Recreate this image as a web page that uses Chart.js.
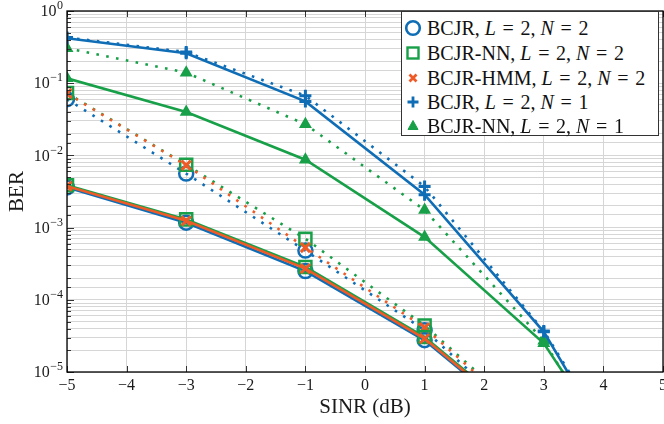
<!DOCTYPE html>
<html>
<head>
<meta charset="utf-8">
<script src="https://cdn.jsdelivr.net/npm/chart.js@4/dist/chart.umd.min.js"></script>
<style>
html, body { margin: 0; padding: 0; background: #fff; }
#wrap { position: relative; width: 664px; height: 424px; overflow: hidden; }
#legend { position: absolute; left: 401px; top: 11px; width: 258px; height: 125px; box-sizing: border-box;
  border: 1px solid #333; background: #fff; font-family: "Liberation Serif", "Times New Roman", serif; font-size: 20px; color: #111; }
.row { position: absolute; left: 0; height: 24px; line-height: 24px; white-space: nowrap; }
.row svg { position: absolute; left: 1px; top: 2px; }
.row span { position: absolute; left: 25px; }
</style>
</head>
<body>
<div id="wrap">
  <canvas id="myChart" width="664" height="424"></canvas>
  <div id="legend"></div>
</div>
<script>
// SINR points (dB)
const snr = [-5, -3, -1, 1, 3, 5];

// solid curves
const bcjrN2 = [3.6e-3, 1.17e-3, 2.5e-4, 2.75e-5, 1.2e-6, null];
const nnN2 = [3.85e-3, 1.3e-3, 2.85e-4, 3.05e-5, 1.3e-6, null];
const hmmN2 = [3.75e-3, 1.24e-3, 2.7e-4, 2.9e-5, 1.25e-6, null];
const bcjrN1 = [0.42, 0.26, 0.056, 2.85e-3, 3.6e-5, 6e-8];
const nnN1 = [0.117, 0.040, 8.7e-3, 7.4e-4, 2.5e-5, 8e-8];

// dotted curves
const bcjrN2Dot = [0.06, 5.6e-3, 4.8e-4, 3.8e-5, 1.2e-6, null];
const nnN2Dot = [0.073, 7.4e-3, 7.0e-4, 4.4e-5, 1.5e-6, null];
const hmmN2Dot = [0.072, 7.3e-3, 5.3e-4, 4.1e-5, 1.4e-6, null];
const bcjrN1Dot = [0.43, 0.27, 0.067, 3.7e-3, 3.7e-5, 8e-8];
const nnN1Dot = [0.305, 0.14, 0.027, 1.75e-3, 2.7e-5, 5e-8];

const xTicks = [-5, -4, -3, -2, -1, 0, 1, 2, 3, 4, 5];
const xTickLabels = ['\u22125', '\u22124', '\u22123', '\u22122', '\u22121', '0', '1', '2', '3', '4', '5'];
const yDecades = [1e-5, 1e-4, 1e-3, 1e-2, 1e-1, 1];
const yTickExps = ['\u22125', '\u22124', '\u22123', '\u22122', '\u22121', '0'];

const legendNames = ['BCJR', 'BCJR-NN', 'BCJR-HMM', 'BCJR', 'BCJR-NN'];
const legendL = [2, 2, 2, 2, 2];
const legendN = [2, 2, 2, 1, 1];

const blue = '#0f6db6';
const green = '#18a049';
const orange = '#ee5b27';

const serif = '"Liberation Serif", "Times New Roman", serif';

function pts(arr) {
  return snr.map((x, i) => ({ x: x, y: arr[i] }));
}

// marker look per curve family
const markers = {
  bcjrN2: { style: 'circle', color: blue, r: 7, bw: 2.5, fill: 'rgba(0,0,0,0)' },
  nnN2: { style: 'rect', color: green, r: 8.5, bw: 2.5, fill: 'rgba(0,0,0,0)' },
  hmmN2: { style: 'crossRot', color: orange, r: 6.5, bw: 3, fill: orange },
  bcjrN1: { style: 'cross', color: blue, r: 6, bw: 3, fill: blue },
  nnN1: { style: 'triangle', color: green, r: 5.5, bw: 2, fill: green }
};

function mk(arr, key, dotted) {
  const m = markers[key];
  return {
    data: pts(arr),
    borderColor: m.color,
    backgroundColor: m.fill,
    borderWidth: 2.6,
    borderDash: dotted ? [2.6, 7.4] : [],
    borderCapStyle: 'butt',
    pointStyle: m.style,
    pointRadius: m.r,
    pointBorderWidth: m.bw,
    pointBorderColor: m.color,
    pointBackgroundColor: m.fill,
    tension: 0,
    fill: false
  };
}

// chart frame, inward tick marks and 10^k labels
const framePlugin = {
  id: 'frame',
  afterDraw(chart) {
    const ctx = chart.ctx;
    const a = chart.chartArea;
    const xs = chart.scales.x, ys = chart.scales.y;
    ctx.save();
    ctx.strokeStyle = '#333';
    ctx.lineWidth = 1;
    ctx.beginPath();
    ys.ticks.forEach(t => {
      const y = Math.round(ys.getPixelForValue(t.value)) + 0.5;
      const e = Math.log10(t.value);
      const len = Math.abs(e - Math.round(e)) < 1e-6 ? 7 : 4;
      ctx.moveTo(a.left, y);
      ctx.lineTo(a.left + len, y);
    });
    xTicks.forEach(v => {
      const x = Math.round(xs.getPixelForValue(v)) + 0.5;
      ctx.moveTo(x, a.bottom);
      ctx.lineTo(x, a.bottom - 6);
      ctx.moveTo(x, a.top);
      ctx.lineTo(x, a.top + 6);
    });
    ctx.stroke();
    ctx.strokeStyle = '#000';
    ctx.lineWidth = 1.3;
    ctx.strokeRect(a.left, a.top, a.right - a.left, a.bottom - a.top);

    ctx.fillStyle = '#1a1a1a';
    ctx.textBaseline = 'middle';
    ctx.textAlign = 'right';
    yDecades.forEach((v, i) => {
      const y = ys.getPixelForValue(v) + 1;
      const right = a.left - 4;
      ctx.font = '12px ' + serif;
      const ew = ctx.measureText(yTickExps[i]).width;
      ctx.fillText(yTickExps[i], right, y - 6);
      ctx.font = '16px ' + serif;
      ctx.fillText('10', right - ew - 0.5, y);
    });
    ctx.restore();
  }
};

Chart.defaults.font.family = serif;
Chart.defaults.color = '#1a1a1a';

const ctx = document.getElementById('myChart').getContext('2d');
const chart = new Chart(ctx, {
  type: 'line',
  data: {
    datasets: [
      mk(hmmN2, 'hmmN2', false),
      mk(nnN2, 'nnN2', false),
      mk(bcjrN2, 'bcjrN2', false),
      mk(hmmN2Dot, 'hmmN2', true),
      mk(nnN2Dot, 'nnN2', true),
      mk(bcjrN2Dot, 'bcjrN2', true),
      mk(bcjrN1, 'bcjrN1', false),
      mk(bcjrN1Dot, 'bcjrN1', true),
      mk(nnN1, 'nnN1', false),
      mk(nnN1Dot, 'nnN1', true)
    ]
  },
  options: {
    responsive: false,
    animation: false,
    layout: { autoPadding: false, padding: { left: 0, right: 1, top: 11, bottom: 0 } },
    plugins: {
      legend: { display: false },
      tooltip: { enabled: false }
    },
    scales: {
      x: {
        type: 'linear',
        min: -5,
        max: 5,
        grid: { color: '#d6d6d6', lineWidth: 1, drawTicks: false },
        border: { display: false },
        ticks: {
          stepSize: 1,
          padding: 4,
          font: { size: 16 },
          color: '#1a1a1a',
          callback: (v) => {
            const i = xTicks.indexOf(v);
            return i >= 0 ? xTickLabels[i] : '';
          }
        },
        title: { display: true, text: 'SINR (dB)', font: { size: 21 }, padding: { top: 0, bottom: 4 }, color: '#1a1a1a' },
        afterFit: (s) => { s.height = 52; s.paddingLeft = 0; s.paddingRight = 0; }
      },
      y: {
        type: 'logarithmic',
        min: 1e-5,
        max: 1,
        grid: { color: '#d6d6d6', lineWidth: 1, drawTicks: false },
        border: { display: false },
        ticks: {
          autoSkip: false,
          padding: 5,
          font: { size: 16 },
          callback: () => ''
        },
        title: { display: true, text: 'BER', font: { size: 21 }, padding: { top: 5, bottom: 0 }, color: '#1a1a1a' },
        afterFit: (s) => { s.width = 67; s.paddingTop = 0; s.paddingBottom = 0; }
      }
    }
  },
  plugins: [framePlugin]
});

// legend built from the same marker styles
const svgMarks = {
  circle: (c) => `<circle cx="10" cy="10" r="6.8" fill="none" stroke="${c}" stroke-width="2.6"/>`,
  rect: (c) => `<rect x="4.5" y="4.5" width="11" height="11" fill="none" stroke="${c}" stroke-width="2.4"/>`,
  crossRot: (c) => `<path d="M6.5 6.5L13.5 13.5M13.5 6.5L6.5 13.5" stroke="${c}" stroke-width="2.8"/>`,
  cross: (c) => `<path d="M4.5 10H15.5M10 4.5V15.5" stroke="${c}" stroke-width="2.8"/>`,
  triangle: (c) => `<path d="M10 4.5L15 13.5H5Z" fill="${c}" stroke="${c}" stroke-width="1"/>`
};
const legendKeys = ['bcjrN2', 'nnN2', 'hmmN2', 'bcjrN1', 'nnN1'];
const rowTops = [4, 29, 54, 78, 102];
const legend = document.getElementById('legend');
legendKeys.forEach((k, i) => {
  const m = markers[k];
  const row = document.createElement('div');
  row.className = 'row';
  row.style.top = rowTops[i] + 'px';
  row.innerHTML = `<svg width="20" height="20">${svgMarks[m.style](m.color)}</svg>` +
    `<span>${legendNames[i]}, <i>L</i>&#8196;=&#8196;${legendL[i]}, <i>N</i>&#8196;=&#8196;${legendN[i]}</span>`;
  legend.appendChild(row);
});
</script>
</body>
</html>
